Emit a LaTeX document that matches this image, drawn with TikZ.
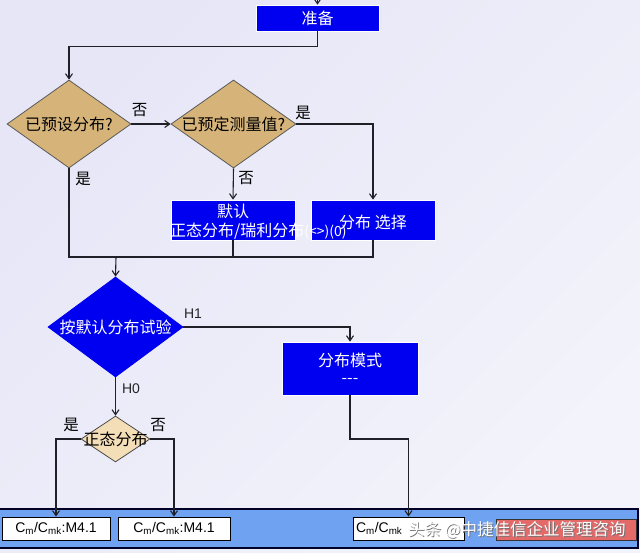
\documentclass[tikz,border=0pt]{standalone}
\usepackage{fontspec}
\setmainfont{Liberation Sans}
\newfontfamily\cjk{Noto Sans CJK SC}
\usetikzlibrary{shapes.geometric,arrows.meta}
\definecolor{bbox}{HTML}{0000F0}
\definecolor{tanfill}{HTML}{D6B479}
\definecolor{wheatfill}{HTML}{F4DEB8}
\definecolor{bandfill}{HTML}{70A2F2}
\definecolor{redfill}{HTML}{E46A6A}
\definecolor{bgA}{HTML}{E6E6F7}
\definecolor{bgB}{HTML}{C4C4EF}
\definecolor{bgC}{HTML}{F3F3FB}
\definecolor{linec}{HTML}{202028}
\begin{document}
\begin{tikzpicture}[x=1pt,y=-1pt,
  conn/.style={draw=linec, line width=1.1pt},
  arr/.style={conn, -{Straight Barb[length=5pt,width=7pt]}},
  cjkf/.style={font=\cjk\fontsize{16}{19}\selectfont},
  bluebox/.style={rectangle, draw=white, line width=0.8pt, fill=bbox, inner sep=0pt, text=white, cjkf},
  tandia/.style={diamond, draw=black!65, line width=0.8pt, fill=tanfill, inner sep=0pt, text=black, cjkf},
  bluedia/.style={diamond, draw=bbox, line width=0.8pt, fill=bbox, inner sep=0pt, text=white, cjkf},
  wheatdia/.style={diamond, draw=black!70, line width=0.8pt, fill=wheatfill, inner sep=0pt, text=black, cjkf},
  lbl/.style={inner sep=0pt, text=black, font=\cjk\fontsize{15.5}{18}\selectfont},
  hlbl/.style={inner sep=0pt, text=black!85, font=\fontsize{14}{16}\selectfont},
  cbox/.style={rectangle, draw=black, line width=0.9pt, fill=white, inner sep=0pt, font=\fontsize{14}{16}\selectfont, minimum height=23pt},
  wtxt/.style={inner sep=0pt, text=white, cjkf}
]
\useasboundingbox (0,0) rectangle (640,552);
% background
\shade[top color=bgA, middle color=bgB, bottom color=bgC, shading angle=45] (0,0) rectangle (640,552);
% bottom band
\filldraw[fill=bandfill, draw=black!85!blue, line width=1.4pt] (-3,509) rectangle (638,548);

% nodes
\node[bluebox, minimum width=123pt, minimum height=26pt] (prep) at (317.5,18) {准备};
\node[tandia, minimum width=124pt, minimum height=88pt] (d1) at (69,124) {\makebox[0pt]{已预设分布?}};
\node[tandia, minimum width=125pt, minimum height=88pt] (d2) at (233.5,124) {\makebox[0pt]{已预定测量值?}};
\node[bluebox, minimum width=124pt, minimum height=40pt] (bx1) at (233,220) {};
\node[bluebox, minimum width=124pt, minimum height=40pt] (bx2) at (373,220) {};
\node[wtxt] (bx2t) at (373,222) {分布 选择};
\node[wtxt] (bx1t) at (233,211) {默认};
\node[wtxt, anchor=west] (bx1u) at (170,231) {正态分布/瑞利分布\fontsize{14}{16}\selectfont(<>)(0)};
\coordinate (merge) at (116,257);
\node[bluedia, minimum width=135pt, minimum height=100pt] (d3) at (115.5,327) {\makebox[0pt]{按默认分布试验}};
\node[bluebox, minimum width=136pt, minimum height=53pt, align=center] (mode) at (350,368.5) {分布模式\\[-2pt]---};
\node[wheatdia, minimum width=69pt, minimum height=46pt] (d4) at (115.5,439) {\makebox[0pt]{正态分布}};
\coordinate (mbend) at (350,439);

\node[cbox, minimum width=108pt] (c1) at (56,528.5) {C\textsubscript{m}/C\textsubscript{mk}:M4.1};
\node[cbox, minimum width=112pt] (c2) at (174,528.5) {C\textsubscript{m}/C\textsubscript{mk}:M4.1};
\node[cbox, minimum width=111pt, text width=105pt] (c3) at (408.5,528.5) {C\textsubscript{m}/C\textsubscript{mk}};
\node[rectangle, draw=black!80, line width=0.9pt, fill=redfill, minimum width=140pt, minimum height=21pt, inner sep=0pt] (red) at (566,529.5) {};

% connectors
\coordinate (topin) at (317.5,-10);
\draw[arr] (topin) -- (prep.north);
\draw[arr] (prep.south) -- ++(0,15) -| (d1.north);
\draw[arr] (d1.east) -- (d2.west);
\draw[arr] (d2.east) -| (bx2.north);
\draw[arr] (d2.south) -- (bx1.north);
\draw[conn] (d1.south) -- (d1.south |- merge) -- (bx2.south |- merge) -- (bx2.south);
\draw[conn] (bx1.south) -- (bx1.south |- merge);
\draw[arr] (merge) -- (d3.north);
\draw[arr] (d3.east) -| (mode.north);
\draw[arr] (d3.south) -- (d4.north);
\draw[arr] (d4.west) -| (c1.north);
\draw[arr] (d4.east) -| (c2.north);
\draw[arr] (mode.south) -- (mbend) -| (c3.north);

% labels
\node[lbl] (l1) at (139.5,110) {否};
\node[lbl] (l2) at (303,113) {是};
\node[lbl] (l3) at (246,178) {否};
\node[lbl] (l4) at (83,179) {是};
\node[hlbl] (h1) at (193,314) {H1};
\node[hlbl] (h0) at (131,389) {H0};
\node[lbl] (l5) at (71,425) {是};
\node[lbl] (l6) at (158,425) {否};

% watermark
\node[inner sep=0pt, anchor=west, text=black!55, font=\cjk\fontsize{16.5}{19}\selectfont] (wm0) at (409,530.8) {头条 @中捷佳信企业管理咨询};
\node[inner sep=0pt, anchor=west, text=white, font=\cjk\fontsize{16.5}{19}\selectfont] (wm) at (408.2,530) {头条 @中捷佳信企业管理咨询};
\end{tikzpicture}
\end{document}
